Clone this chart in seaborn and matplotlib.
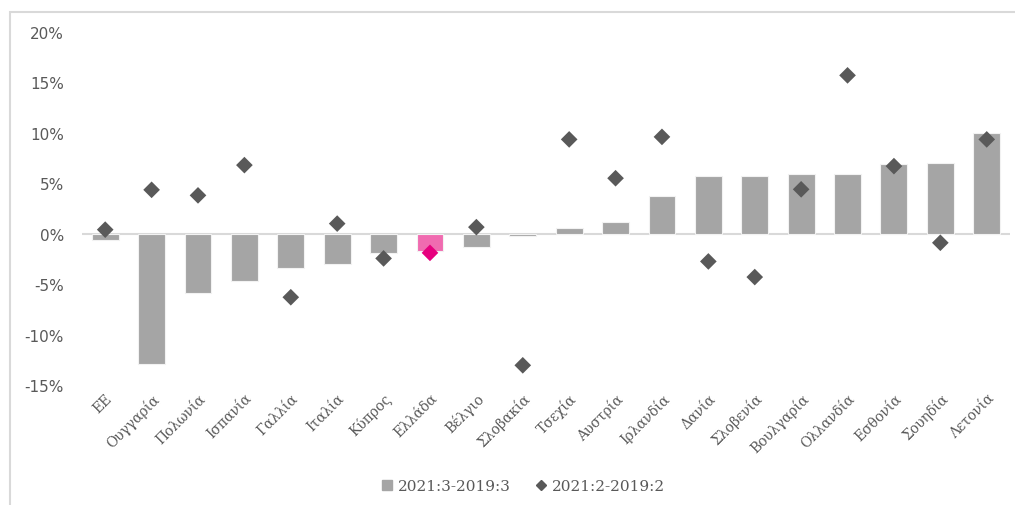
import numpy as np
import pandas as pd
import matplotlib
matplotlib.use('Agg')
import matplotlib.pyplot as plt
from matplotlib.lines import Line2D
from matplotlib.patches import Rectangle
from matplotlib.ticker import FuncFormatter
import seaborn as sns

# data
countries = ['ΕΕ', 'Ουγγαρία', 'Πολωνία', 'Ισπανία', 'Γαλλία', 'Ιταλία', 'Κύπρος',
             'Ελλάδα', 'Βέλγιο', 'Σλοβακία', 'Τσεχία', 'Αυστρία', 'Ιρλανδία', 'Δανία',
             'Σλοβενία', 'Βουλγαρία', 'Ολλανδία', 'Εσθονία', 'Σουηδία', 'Λετονία']
q3_change = [-0.65, -12.9, -5.9, -4.65, -3.4, -3.0, -1.9, -1.7, -1.3, -0.2,
             0.6, 1.2, 3.75, 5.75, 5.75, 5.9, 5.9, 6.95, 7.0, 10.0]
q2_change = [0.4, 4.35, 3.8, 6.8, -6.3, 1.0, -2.45, -1.9, 0.65, -13.05,
             9.35, 5.5, 9.6, -2.75, -4.3, 4.4, 15.7, 6.7, -0.9, 9.35]
highlight = 'Ελλάδα'

bar_grey = '#A5A5A5'
bar_pink = '#F06BB0'
mark_grey = '#595959'
mark_pink = '#E6007E'
text_grey = '#595959'

df = pd.DataFrame({'country': countries, 'q3': q3_change, 'q2': q2_change})
df['pos'] = np.arange(len(df))

sns.set_style('white')
fig = plt.figure(figsize=(10.15, 5.06), dpi=100)
ax = fig.add_axes([0.0808, 0.2372, 0.9142, 0.6976])

bar_pal = {c: (bar_pink if c == highlight else bar_grey) for c in countries}
sns.barplot(data=df, x='country', y='q3', hue='country', palette=bar_pal,
            width=0.58, edgecolor='#F2F2F2', linewidth=0.8, legend=False,
            saturation=1, ax=ax, zorder=2)

mark_pal = {c: (mark_pink if c == highlight else mark_grey) for c in countries}
sns.scatterplot(data=df, x='pos', y='q2', hue='country', palette=mark_pal,
                marker='D', s=72, linewidth=0, legend=False, ax=ax, zorder=3)

ax.axhline(0, color='#D9D9D9', lw=1.5, zorder=1)
ax.set_xlim(-0.5, len(countries) - 0.5)
ax.set_ylim(-15, 20)
ax.set_yticks(np.arange(-15, 21, 5))
ax.yaxis.set_major_formatter(FuncFormatter(lambda v, p: '{:.0f}%'.format(v)))
ax.set_xlabel('')
ax.set_ylabel('')
for s in ax.spines.values():
    s.set_visible(False)
ax.tick_params(axis='y', length=0, pad=13, labelsize=11, labelcolor=text_grey)
ax.tick_params(axis='x', length=0, pad=4)
ax.set_xticks(df['pos'])
ax.set_xticklabels(countries, rotation=45, ha='right', rotation_mode='anchor',
                   family='DejaVu Serif', fontsize=10, color=text_grey)

# chart frame (only left and top edges show)
fig.patches.append(Rectangle((10 / 1015, -0.3), 1.5, 1.3 - 13 / 506,
                             transform=fig.transFigure, fill=False,
                             edgecolor='#D9D9D9', lw=1.5))

handles = [Line2D([], [], ls='', marker='s', ms=7, color=bar_grey),
           Line2D([], [], ls='', marker='D', ms=5, color=mark_grey)]
leg = fig.legend(handles, ['2021:3-2019:3', '2021:2-2019:2'], loc='center',
                 bbox_to_anchor=(0.515, 0.037), ncol=2, frameon=False,
                 handlelength=0.8, handletextpad=0.3, columnspacing=1.6,
                 prop={'family': 'DejaVu Serif', 'size': 11})
for t in leg.get_texts():
    t.set_color(text_grey)

fig.savefig('out.png', dpi=100)
